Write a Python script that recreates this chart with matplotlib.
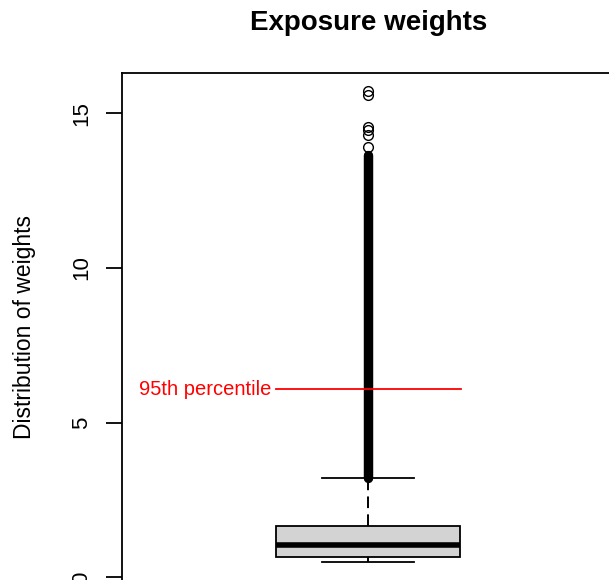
import numpy as np
import matplotlib.pyplot as plt

# Boxplot summary
q1 = 0.65
median = 1.04
q3 = 1.65
whisker_lo = 0.49
whisker_hi = 3.2
# Sparse outliers above the dense run of points
fliers = [13.9, 14.3, 14.45, 14.55, 15.6, 15.72]
# Dense run of outliers that merges into a solid column
dense_lo, dense_hi = 3.2, 13.65
p95 = 6.08
yticks = [0, 5, 10, 15]

plt.rcParams['font.family'] = ['Liberation Sans', 'DejaVu Sans']

fig = plt.figure(figsize=(6.09, 5.80), dpi=100)
ax = fig.add_axes([0.2003, -0.002, 0.808, 0.876])

stats = [dict(med=median, q1=q1, q3=q3, whislo=whisker_lo, whishi=whisker_hi, fliers=fliers)]
ax.bxp(stats, positions=[1], widths=0.374, capwidths=0.187, patch_artist=True,
       boxprops=dict(facecolor='#d3d3d3', edgecolor='black', linewidth=1.3),
       medianprops=dict(color='black', linewidth=4, solid_capstyle='butt'),
       whiskerprops=dict(color='black', linewidth=1.4, linestyle=(0, (6, 3.2))),
       capprops=dict(color='black', linewidth=1.3),
       flierprops=dict(marker='o', markerfacecolor='none', markeredgecolor='black',
                       markersize=7, markeredgewidth=1.0))

# dense outliers drawn as a solid column
ax.plot([1, 1], [dense_lo, dense_hi], color='black', linewidth=6.8, solid_capstyle='round')

# 95th percentile marker
ax.plot([0.813, 1.189], [p95, p95], color='red', linewidth=1.3)
ax.text(0.803, p95, '95th percentile', color='red', fontsize=14.5, ha='right', va='center')

ax.set_xlim(0.5, 1.5)
ax.set_ylim(-0.12, 16.3)
ax.set_yticks(yticks)
ax.set_yticklabels([str(t) for t in yticks], rotation=90, va='center', fontsize=16)
ax.tick_params(axis='y', length=11.5, width=1.3, pad=10)
ax.set_xticks([])
for s in ax.spines.values():
    s.set_linewidth(1.3)
ax.set_ylabel('Distribution of weights', fontsize=16.5, labelpad=25)

fig.text(0.605, 0.96, 'Exposure weights', ha='center', va='center', fontsize=20, fontweight='bold')

fig.savefig('out.png', dpi=100)
